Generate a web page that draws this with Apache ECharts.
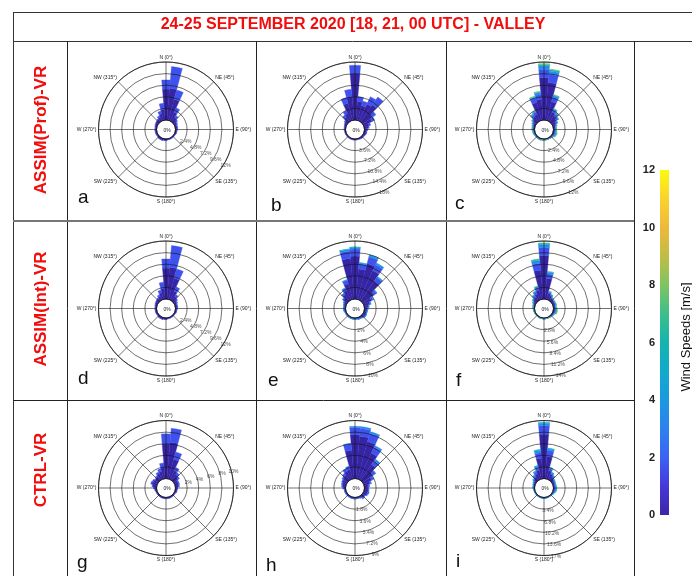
<!DOCTYPE html>
<html><head><meta charset="utf-8">
<script src="https://cdn.jsdelivr.net/npm/echarts@6/dist/echarts.min.js"></script>
<style>html,body{margin:0;padding:0;background:#fff}#c{width:692px;height:576px}</style>
</head><body><div id="c"></div><script>
// ---------- data ----------
const directions = [0,10,20,30,40,50,60,70,80,90,100,110,120,130,140,150,160,170,180,190,200,210,220,230,240,250,260,270,280,290,300,310,320,330,340,350];
const speedBins = ['0-2 m/s','2-4 m/s','4-6 m/s','6-8 m/s','8-10 m/s'];
const binColors = ['#3524a4','#3f52ee','#2b88ee','#16b0c6','#6cc466'];
const angleNames = ['N (0°)','NE (45°)','E (90°)','SE (135°)','S (180°)','SW (225°)','W (270°)','NW (315°)'];
const panelLetters = ['a','b','c','d','e','f','g','h','i'];
const rowTitles = ['ASSIM(Prof)-VR','ASSIM(Int)-VR','CTRL-VR'];
const titleText = '24-25 SEPTEMBER 2020 [18, 21, 00 UTC] - VALLEY';
const panelMax = [12,18,12,12,10,14,10,9,17];
const ringTicks = [
  [2.4,4.8,7.2,9.6,12],[3.6,7.2,10.8,14.4,18],[2.4,4.8,7.2,9.6,12],
  [2.4,4.8,7.2,9.6,12],[2,4,6,8,10],[2.8,5.6,8.4,11.2,14],
  [2,4,6,8,10],[1.8,3.6,5.4,7.2,9],[3.4,6.8,10.2,13.6,17]];
const colorbarTicks = [0,2,4,6,8,10,12];
const colorbarName = 'Wind Speeds [m/s]';

const a_s1 = [6.4,6.6,4.5,2.0,1.1,0.7,0.5,0.4,0.4,0.3,0.3,0.3,0.2,0.2,0.2,0.2,0.2,0.2,0.3,0.3,0.4,0.4,0.4,0.3,0.3,0.3,0.3,0.3,0.3,0.4,0.5,0.6,0.6,0.9,1.4,2.2];
const a_s2 = [1.9,4.5,2.0,1.0,0.5,0.3,0.2,0.1,0.1,0.1,0,0,0,0,0,0,0,0,0,0,0,0,0,0,0,0,0,0,0,0,0,0,0.2,0.3,0.6,1.3];

const b_s1 = [14.5,5.8,4.8,5.8,6.4,3.5,2.9,1.6,1.2,0.8,0.7,0.7,0.6,0.5,0.5,0.4,0.3,0.3,0.3,0.3,0.3,0.3,0.3,0.3,0.3,0.3,0.3,0.4,0.4,0.5,0.7,0.9,1.8,2.5,5.5,7.3];
const b_s2 = [2.5,1.5,1.4,2.5,3.0,1.5,0.9,0.5,0.3,0.2,0.1,0.1,0,0,0,0,0,0,0,0,0,0,0,0,0,0,0,0,0,0,0,0.3,0.7,1.0,1.8,2.3];

const c_s1 = [8.8,7.8,4.0,2.0,1.6,1.2,0.8,0.5,0.4,0.3,0.3,0.3,0.3,0.2,0.2,0.2,0.2,0.2,0.2,0.2,0.2,0.2,0.2,0.2,0.2,0.2,0.2,0.3,0.3,0.3,0.5,0.8,1.3,1.5,3.8,4.3];
const c_s2 = [1.7,1.7,0.9,0.5,0.4,0.4,0.3,0.2,0.1,0.1,0.2,0.2,0.2,0.1,0.1,0,0,0,0,0,0.1,0.1,0.1,0.1,0.1,0.1,0.1,0.1,0.1,0.2,0.2,0.2,0.4,0.5,0.9,1.0];
const c_s3 = [0.7,0.7,0.4,0.2,0.2,0.1,0.1,0.1,0.1,0.1,0.1,0.2,0.1,0.1,0,0,0,0,0,0,0,0,0,0,0,0.1,0.1,0.1,0.1,0.1,0.1,0.1,0.2,0.2,0.3,0.4];
const c_s4 = [0.3,0.3,0.2,0.1,0.1,0.1,0,0,0,0.1,0.1,0.1,0.1,0.1,0,0,0,0,0,0,0,0,0,0,0,0,0,0,0,0,0,0.1,0.1,0.1,0.1,0.2];
const c_s5 = [0.2,0.1,0,0,0,0,0,0,0,0,0,0.1,0.1,0,0,0,0,0,0,0,0,0,0,0,0,0,0,0,0,0,0,0,0,0,0.1,0.1];

const d_s1 = [6.4,6.6,4.5,2.0,1.1,0.7,0.5,0.4,0.4,0.3,0.3,0.3,0.2,0.2,0.2,0.2,0.2,0.2,0.3,0.3,0.4,0.4,0.4,0.3,0.3,0.3,0.3,0.3,0.3,0.4,0.5,0.6,0.6,0.9,1.4,2.2];
const d_s2 = [1.9,4.5,2.0,1.0,0.5,0.3,0.2,0.1,0.1,0.1,0,0,0,0,0,0,0,0,0,0,0,0,0,0,0,0,0,0,0,0,0,0,0.2,0.3,0.6,1.3];

const e_s1 = [7.4,5.2,6.4,5.6,4.1,2.4,1.5,1.0,0.7,0.5,0.5,0.5,0.5,0.5,0.4,0.3,0.3,0.2,0.2,0.2,0.2,0.2,0.2,0.2,0.2,0.2,0.3,0.3,0.3,0.4,0.5,0.8,1.3,1.8,2.8,7.0];
const e_s2 = [1.2,0.9,1.2,1.1,0.8,0.5,0.3,0.2,0.1,0.1,0,0,0.1,0.1,0,0,0,0,0,0,0,0,0,0,0,0,0,0,0,0,0.1,0.2,0.3,0.4,0.6,1.3];
const e_s3 = [0.3,0.2,0.3,0.3,0.2,0.1,0.1,0,0,0,0,0,0,0,0,0,0,0,0,0,0,0,0,0,0,0,0,0,0,0,0,0,0,0.1,0.1,0.3];
const e_s4 = [0.1,0,0.1,0,0,0,0,0,0,0,0,0,0,0,0,0,0,0,0,0,0,0,0,0,0,0,0,0,0,0,0,0,0,0,0,0.1];

const f_s1 = [10.5,5.0,1.5,1.1,0.7,0.6,0.5,0.5,0.4,0.4,0.4,0.4,0.3,0.3,0.2,0.2,0.2,0.2,0.2,0.2,0.2,0.2,0.2,0.2,0.2,0.2,0.2,0.2,0.3,0.3,0.5,0.8,1.1,1.6,2.3,7.0];
const f_s2 = [2.0,1.1,0.3,0.3,0.2,0.1,0.2,0.2,0.1,0.2,0.2,0.2,0.1,0.1,0.1,0,0,0,0,0,0,0,0,0,0,0,0,0.1,0.1,0.1,0.2,0.2,0.4,0.5,0.6,1.7];
const f_s3 = [0.6,0.4,0.2,0.1,0.1,0.1,0.1,0.1,0.1,0.1,0.2,0.2,0.1,0,0,0,0,0,0,0,0,0,0,0,0,0,0,0,0,0.1,0.1,0.1,0.2,0.2,0.3,0.7];
const f_s4 = [0.4,0.2,0,0,0,0,0,0,0.1,0.1,0.1,0.1,0.1,0,0,0,0,0,0,0,0,0,0,0,0,0,0,0,0,0,0,0.1,0.1,0.1,0.1,0.3];
const f_s5 = [0,0,0,0,0,0,0,0,0,0,0.1,0.1,0,0,0,0,0,0,0,0,0,0,0,0,0,0,0,0,0,0,0,0,0,0,0,0];

const g_s1 = [6.0,6.3,3.5,1.7,1.2,0.9,0.6,0.6,0.5,0.3,0.3,0.3,0.2,0.2,0.2,0.2,0.2,0.2,0.2,0.2,0.2,0.2,0.2,0.2,0.2,0.2,0.3,0.4,0.7,0.9,0.8,0.7,0.8,1.1,1.3,2.0];
const g_s2 = [1.7,2.4,1.3,0.6,0.4,0.3,0.2,0.2,0.2,0.1,0,0,0,0,0,0,0,0,0,0,0,0,0,0,0,0,0,0.1,0.1,0.2,0.2,0.1,0.2,0.3,0.5,0.7];

const h_s1 = [6.8,6.6,6.0,4.5,3.0,1.9,1.4,0.9,0.6,0.5,0.6,0.6,0.6,0.4,0.4,0.3,0.2,0.2,0.2,0.2,0.2,0.2,0.2,0.2,0.2,0.2,0.2,0.3,0.5,0.6,0.7,0.8,1.0,1.4,1.5,4.4];
const h_s2 = [1.1,1.2,1.3,1.0,0.7,0.5,0.3,0.2,0.2,0.1,0.1,0.2,0.1,0.1,0.2,0,0,0,0,0,0,0,0,0,0,0,0,0.1,0.1,0.1,0.1,0.2,0.3,0.4,0.5,1.0];
const h_s3 = [0.2,0.3,0.3,0.3,0.3,0.1,0.1,0.1,0,0,0,0,0,0,0,0,0,0,0,0,0,0,0,0,0,0,0,0,0,0,0,0,0,0,0,0.1];

const i_s1 = [13.0,6.5,2.5,1.7,1.2,0.8,0.6,0.5,0.4,0.4,0.4,0.3,0.3,0.2,0.2,0.2,0.2,0.2,0.2,0.2,0.2,0.2,0.2,0.2,0.2,0.2,0.2,0.3,0.3,0.4,0.5,0.8,1.2,1.8,2.7,6.0];
const i_s2 = [2.5,1.8,0.6,0.4,0.4,0.2,0.2,0.2,0.2,0.3,0.3,0.2,0.1,0.1,0,0,0,0,0,0,0,0,0,0,0,0,0,0.1,0.1,0.1,0.2,0.3,0.4,0.6,0.8,1.6];
const i_s3 = [0.7,0.5,0.3,0.2,0.1,0.1,0.1,0.1,0.2,0.2,0.2,0.2,0.1,0,0,0,0,0,0,0,0,0,0,0,0,0,0,0,0.1,0.1,0.1,0.1,0.3,0.3,0.4,0.7];
const i_s4 = [0.3,0.2,0.1,0.1,0.1,0.1,0.1,0,0.1,0.1,0.1,0.1,0,0,0,0,0,0,0,0,0,0,0,0,0,0,0,0,0,0,0,0.1,0.1,0.1,0.2,0.3];

const panelBins = [
  [a_s1,a_s2],[b_s1,b_s2],[c_s1,c_s2,c_s3,c_s4,c_s5],
  [d_s1,d_s2],[e_s1,e_s2,e_s3,e_s4],[f_s1,f_s2,f_s3,f_s4,f_s5],
  [g_s1,g_s2],[h_s1,h_s2,h_s3],[i_s1,i_s2,i_s3,i_s4]];

// ---------- layout ----------
const colX = [166, 355, 544];
const rowY = [129.5, 308.5, 488];
const R = 67.5, HOLE = 9.5;
const ringLabelDir = [121,155,155,121,165,166,76,163,170];
const letterPos = [[78,204],[271,212],[455,210],[78,385],[268,387],[456,387],[77,569],[266,572],[456,568]];
const FONT = 'Liberation Sans';

const polar = [], angleAxis = [], radiusAxis = [], series = [], graphic = [];
for (let p = 0; p < 9; p++) {
  const cx = colX[p % 3], cy = rowY[Math.floor(p / 3)];
  const M = panelMax[p];
  const ticks = ringTicks[p];
  const step = ticks[0];
  polar.push({center: [cx, cy], radius: [HOLE, R]});
  angleAxis.push({polarIndex: 2*p, type: 'category', data: directions, startAngle: 95, clockwise: true,
    boundaryGap: true, axisLine: {show: false}, axisTick: {show: false}, axisLabel: {show: false}, splitLine: {show: false}});
  radiusAxis.push({polarIndex: 2*p, type: 'value', min: 0, max: M,
    axisLine: {show: false}, axisTick: {show: false}, axisLabel: {show: false}, splitLine: {show: false}});
  polar.push({center: [cx, cy], radius: [HOLE, R]});
  angleAxis.push({polarIndex: 2*p+1, type: 'value', min: 0, max: 360, interval: 45, startAngle: 90, clockwise: true, z: 5,
    axisLine: {show: true, lineStyle: {color: '#111', width: 0.7}}, axisTick: {show: false},
    axisLabel: {show: true, margin: 2, fontSize: 5, color: '#222', fontFamily: FONT,
      formatter: v => (v >= 360 ? '' : angleNames[Math.round(v / 45)])},
    splitLine: {show: true, lineStyle: {color: '#111', width: 0.6}}});
  radiusAxis.push({polarIndex: 2*p+1, type: 'value', min: 0, max: M, interval: step, z: 5,
    axisLine: {show: false}, axisTick: {show: false}, axisLabel: {show: false},
    splitLine: {show: true, lineStyle: {color: '#111', width: 0.6}}});
  panelBins[p].forEach((arr, b) => {
    series.push({type: 'bar', coordinateSystem: 'polar', polarIndex: 2*p, stack: 'rose' + p,
      name: speedBins[b], data: arr, barCategoryGap: '0%', barGap: '-100%',
      itemStyle: {color: binColors[b], borderColor: binColors[b], borderWidth: 0.35}, z: 2, silent: true});
  });
  const th = ringLabelDir[p] * Math.PI / 180;
  series.push({type: 'scatter', coordinateSystem: 'polar', polarIndex: 2*p+1, symbolSize: 0, silent: true, z: 6,
    data: ticks.map(t => [t, ringLabelDir[p]]),
    label: {show: true, position: 'inside', fontSize: 5, color: '#222', fontFamily: FONT,
      offset: [Math.sin(th) * 2, -Math.cos(th) * 2],
      formatter: q => q.value[0] + '%'}});
  graphic.push({type: 'text', x: cx + 1, y: cy + 1, z: 10,
    style: {text: '0%', fontSize: 5, fontFamily: FONT, fill: '#222', align: 'center', verticalAlign: 'middle'}});
  graphic.push({type: 'text', x: letterPos[p][0], y: letterPos[p][1] - 6.5, z: 10,
    style: {text: panelLetters[p], fontSize: 19, fontFamily: FONT, fill: '#111', align: 'left', verticalAlign: 'middle'}});
}

const L = (x1, y1, x2, y2, c, w) => ({type: 'line', z: 20, shape: {x1, y1, x2, y2}, style: {stroke: c, lineWidth: w}});
graphic.push(L(13, 12.5, 692, 12.5, '#333', 1));
graphic.push(L(13, 41.5, 692, 41.5, '#333', 1));
graphic.push(L(13.5, 12, 13.5, 576, '#333', 1));
[67.5, 256.5, 446.5, 634.5].forEach(x => graphic.push(L(x, 41, x, 576, '#222', 1)));
graphic.push(L(13, 221, 634, 221, '#777', 2));
graphic.push(L(13, 400.5, 634, 400.5, '#222', 1));

graphic.push({type: 'text', x: 353, y: 25, z: 21,
  style: {text: titleText, fontSize: 16, fontWeight: 'bold', fontFamily: FONT, fill: '#f20c0c', align: 'center', verticalAlign: 'middle'}});
const rowCenters = [130, 309, 470];
rowTitles.forEach((t, r) => graphic.push({type: 'text', x: 41, y: rowCenters[r], rotation: Math.PI / 2, z: 21,
  style: {text: t, fontSize: 17, fontWeight: 'bold', fontFamily: FONT, fill: '#f20c0c', align: 'center', verticalAlign: 'middle'}}));
graphic.push({type: 'text', x: 686, y: 337, rotation: Math.PI / 2, z: 21,
  style: {text: colorbarName, fontSize: 13, fontFamily: FONT, fill: '#111', align: 'center', verticalAlign: 'middle'}});

const parulaStops = [
  {offset: 0, color: '#3e26a8'}, {offset: 0.083, color: '#4538d9'}, {offset: 0.167, color: '#3d62f4'},
  {offset: 0.25, color: '#2d81ef'}, {offset: 0.333, color: '#1b99e0'}, {offset: 0.417, color: '#12aacb'},
  {offset: 0.5, color: '#15b4ae'}, {offset: 0.583, color: '#3cbf8a'}, {offset: 0.667, color: '#80c462'},
  {offset: 0.75, color: '#c0bd44'}, {offset: 0.833, color: '#edb93a'}, {offset: 0.917, color: '#fbd22d'},
  {offset: 1, color: '#f9fb0e'}];

const chart = echarts.init(document.getElementById('c'), null, {renderer: 'canvas'});
chart.setOption({
  animation: false,
  backgroundColor: '#fff',
  polar, angleAxis, radiusAxis,
  grid: {left: 660, top: 170, width: 9, height: 345},
  xAxis: {type: 'category', data: ['cb'], show: false},
  yAxis: {type: 'value', min: colorbarTicks[0], max: colorbarTicks[colorbarTicks.length - 1], interval: 2,
    axisLine: {show: false}, axisTick: {show: false}, splitLine: {show: false},
    axisLabel: {fontSize: 11, fontWeight: 'bold', color: '#222', margin: 5, fontFamily: FONT}},
  series: series.concat([{type: 'bar', xAxisIndex: 0, yAxisIndex: 0, data: [colorbarTicks[colorbarTicks.length - 1]],
    barWidth: '100%', silent: true,
    itemStyle: {color: new echarts.graphic.LinearGradient(0, 1, 0, 0, parulaStops)}}]),
  graphic
});
</script></body></html>
